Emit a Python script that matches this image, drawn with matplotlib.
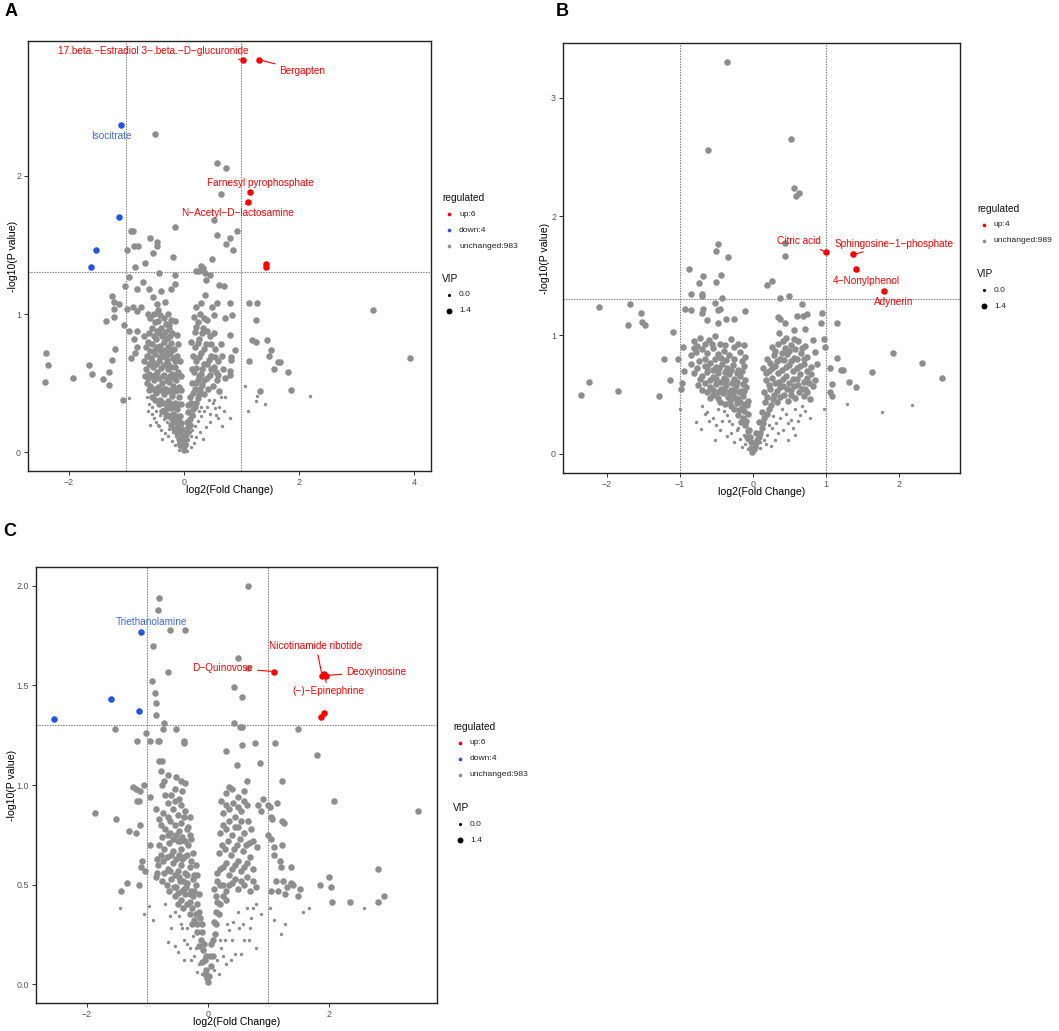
import matplotlib
matplotlib.use("Agg")
import matplotlib.pyplot as plt

plt.rcParams['font.family'] = ['Liberation Sans', 'DejaVu Sans']

W, H = 1059, 1031
RED = '#FF0000'
BLUE = '#2156E0'
BLUE_TXT = '#3B6BE8'
GREY = '#8E8E8E'
M = '\u2212'

# ---------------- panel A ----------------
a_up_x = [1.03, 1.30, 1.15, 1.11, 1.43, 1.43]
a_up_y = [2.84, 2.84, 1.88, 1.81, 1.36, 1.34]
a_down_x = [-1.09, -1.12, -1.53, -1.62]
a_down_y = [2.37, 1.70, 1.46, 1.34]
a_grey_big = [
    (-0.50, 2.30), (0.58, 2.09), (0.73, 2.06), (0.65, 1.87), (0.53, 1.68), (-0.16, 1.63),
    (-0.91, 1.60), (-0.88, 1.60), (0.92, 1.60), (0.57, 1.57), (0.81, 1.55), (-0.58, 1.55),
    (-0.46, 1.52), (-0.47, 1.49), (0.73, 1.51), (-0.86, 1.49), (-0.80, 1.49), (-0.98, 1.46),
    (0.85, 1.46), (-0.53, 1.44), (-0.18, 1.41), (0.49, 1.40), (-0.67, 1.37), (-0.85, 1.34),
    (0.30, 1.35), (0.33, 1.33), (0.22, 1.31), (0.26, 1.31), (-0.43, 1.30), (-0.16, 1.28),
    (0.37, 1.30), (0.38, 1.25), (0.46, 1.28), (-0.95, 1.27), (-0.71, 1.23), (-0.16, 1.22),
    (0.61, 1.21), (0.70, 1.20), (-1.03, 1.20), (-0.81, 1.18), (-0.61, 1.18), (-0.39, 1.17),
    (-0.23, 1.18), (0.37, 1.14), (-1.25, 1.13), (-1.22, 1.09), (-1.22, 1.04), (-0.53, 1.12),
    (-0.46, 1.07), (-0.33, 1.09), (-1.12, 1.07), (-0.99, 1.04), (-0.89, 1.05), (-0.81, 1.02),
    (-0.74, 1.05), (-0.63, 1.00), (-0.51, 1.00), (0.30, 1.08), (0.22, 1.05), (0.57, 1.08),
    (0.49, 1.05), (0.81, 1.08), (1.13, 1.08), (1.27, 1.08), (0.83, 0.99), (0.71, 0.97),
    (0.53, 0.99), (-1.36, 0.95), (-1.22, 0.98), (-1.04, 0.92), (-0.96, 0.88), (-0.82, 0.88),
    (1.26, 0.96), (0.81, 0.85), (-0.87, 0.82), (-0.82, 0.76), (1.18, 0.81), (1.26, 0.80),
    (1.44, 0.81), (-1.19, 0.75), (-0.85, 0.72), (-0.91, 0.68), (0.89, 0.74), (1.51, 0.74),
    (1.49, 0.70), (-2.39, 0.72), (-2.36, 0.63), (-2.41, 0.51), (-1.25, 0.67), (-1.65, 0.63),
    (-1.60, 0.57), (-1.93, 0.54), (-1.41, 0.53), (-1.30, 0.58), (-1.30, 0.49), (1.13, 0.66),
    (1.63, 0.65), (1.67, 0.65), (1.57, 0.60), (1.82, 0.58), (1.87, 0.45), (1.33, 0.44),
    (0.82, 0.69), (0.82, 0.67), (0.81, 0.59), (0.81, 0.56), (3.29, 1.03), (3.94, 0.68),
    (-1.05, 0.38),
]
a_core = [
    # left arm
    (-0.42, 0.99), (-0.35, 0.97), (-0.28, 1.00), (-0.22, 0.96), (-0.50, 0.94), (-0.25, 0.92),
    (-0.55, 0.90), (-0.47, 0.88), (-0.40, 0.90), (-0.33, 0.87), (-0.26, 0.89), (-0.20, 0.86),
    (-0.60, 0.86), (-0.38, 0.84), (-0.62, 0.80), (-0.55, 0.78), (-0.48, 0.82), (-0.41, 0.77),
    (-0.34, 0.80), (-0.28, 0.76), (-0.22, 0.79), (-0.17, 0.75), (-0.66, 0.76), (-0.50, 0.74),
    (-0.64, 0.70), (-0.57, 0.68), (-0.50, 0.71), (-0.44, 0.66), (-0.37, 0.70), (-0.30, 0.67),
    (-0.24, 0.72), (-0.18, 0.68), (-0.12, 0.70), (-0.40, 0.73), (-0.66, 0.60), (-0.60, 0.57),
    (-0.53, 0.62), (-0.47, 0.58), (-0.40, 0.61), (-0.34, 0.56), (-0.27, 0.60), (-0.21, 0.57),
    (-0.15, 0.62), (-0.10, 0.58), (-0.56, 0.55), (-0.64, 0.50), (-0.58, 0.48), (-0.51, 0.52),
    (-0.45, 0.47), (-0.38, 0.50), (-0.31, 0.46), (-0.25, 0.51), (-0.19, 0.48), (-0.13, 0.52),
    (-0.08, 0.47), (-0.55, 0.40), (-0.48, 0.43), (-0.41, 0.38), (-0.34, 0.42), (-0.27, 0.37),
    (-0.21, 0.41), (-0.15, 0.36), (-0.09, 0.40), (-0.05, 0.35), (-0.38, 0.30), (-0.31, 0.27),
    (-0.24, 0.32), (-0.18, 0.28), (-0.12, 0.31), (-0.06, 0.26), (-0.22, 0.20), (-0.16, 0.22),
    (-0.10, 0.18), (-0.05, 0.21), (-0.08, 0.10), (-0.04, 0.07), (-0.02, 0.12),
    (-0.45, 0.95), (-0.31, 0.93), (-0.52, 0.84), (-0.44, 0.86), (-0.30, 0.83), (-0.24, 0.84),
    (-0.58, 0.73), (-0.46, 0.76), (-0.33, 0.74), (-0.27, 0.71), (-0.20, 0.74), (-0.61, 0.64),
    (-0.55, 0.66), (-0.48, 0.64), (-0.42, 0.69), (-0.35, 0.63), (-0.28, 0.64), (-0.22, 0.62),
    (-0.16, 0.66), (-0.62, 0.54), (-0.50, 0.56), (-0.43, 0.54), (-0.37, 0.55), (-0.30, 0.52),
    (-0.24, 0.55), (-0.17, 0.54), (-0.12, 0.57), (-0.60, 0.45), (-0.53, 0.46), (-0.42, 0.45),
    (-0.35, 0.46), (-0.28, 0.44), (-0.22, 0.45), (-0.16, 0.44), (-0.11, 0.45), (-0.50, 0.38),
    (-0.44, 0.35), (-0.37, 0.36), (-0.30, 0.33), (-0.24, 0.36), (-0.18, 0.33), (-0.11, 0.35),
    (-0.33, 0.30), (-0.27, 0.26), (-0.20, 0.24), (-0.14, 0.26), (-0.09, 0.23), (-0.17, 0.17),
    (-0.12, 0.14), (-0.06, 0.15), (-0.03, 0.17), (-0.06, 0.05), (-0.01, 0.08), (0.00, 0.02),
    (-0.69, 0.66), (-0.68, 0.55), (-0.70, 0.84), (-0.58, 0.97), (-0.45, 1.03), (-0.15, 0.95),
    (-0.12, 0.85), (-0.10, 0.78), (-0.07, 0.66), (-0.05, 0.55), (-0.04, 0.45),
    # right arm
    (0.02, 0.05), (0.04, 0.10), (0.06, 0.15), (0.10, 0.20), (0.05, 0.22), (0.14, 0.27),
    (0.08, 0.29), (0.19, 0.33), (0.12, 0.36), (0.24, 0.39), (0.16, 0.43), (0.29, 0.46),
    (0.21, 0.50), (0.36, 0.52), (0.26, 0.55), (0.45, 0.56), (0.18, 0.58), (0.32, 0.60),
    (0.52, 0.62), (0.40, 0.64), (0.22, 0.66), (0.60, 0.66), (0.48, 0.70), (0.30, 0.72),
    (0.20, 0.76), (0.55, 0.75), (0.38, 0.78), (0.27, 0.82), (0.45, 0.84), (0.19, 0.87),
    (0.33, 0.90), (0.24, 0.94), (0.40, 0.96), (0.18, 0.98), (0.28, 1.00), (0.64, 0.78),
    (0.50, 0.48), (0.58, 0.52), (0.35, 0.42), (0.42, 0.46), (0.68, 0.60), (0.72, 0.54),
    (0.62, 0.44),
    (0.03, 0.13), (0.08, 0.18), (0.11, 0.24), (0.07, 0.34), (0.16, 0.31), (0.21, 0.36),
    (0.10, 0.40), (0.27, 0.42), (0.19, 0.46), (0.14, 0.50), (0.32, 0.49), (0.24, 0.52),
    (0.40, 0.54), (0.30, 0.57), (0.22, 0.61), (0.36, 0.64), (0.47, 0.60), (0.56, 0.58),
    (0.27, 0.69), (0.43, 0.67), (0.54, 0.69), (0.35, 0.75), (0.47, 0.78), (0.24, 0.79),
    (0.31, 0.86), (0.40, 0.88), (0.22, 0.91), (0.36, 0.97), (0.52, 0.86), (0.66, 0.70),
    (0.60, 0.56), (0.16, 0.70), (0.14, 0.60), (0.13, 0.80),
]
a_grey_small = [
    (2.20, 0.41), (1.06, 0.48), (1.27, 0.41), (1.26, 0.37), (1.41, 0.35), (1.12, 0.30),
    (0.80, 0.25), (0.67, 0.19), (-0.95, 0.39),
    (-0.02, 0.02), (0.01, 0.03), (-0.06, 0.04), (0.05, 0.06), (-0.10, 0.07), (0.08, 0.09),
    (-0.14, 0.12), (0.12, 0.12), (-0.18, 0.15), (0.15, 0.16), (-0.25, 0.17), (0.20, 0.19),
    (-0.30, 0.22), (0.24, 0.23), (-0.35, 0.24), (0.30, 0.26), (-0.42, 0.27), (0.35, 0.30),
    (-0.48, 0.30), (0.40, 0.33), (-0.52, 0.25), (0.45, 0.28), (-0.55, 0.33), (0.50, 0.36),
    (-0.32, 0.14), (0.28, 0.15), (0.60, 0.25), (-0.45, 0.20), (0.55, 0.32), (0.65, 0.40),
    (-0.60, 0.35), (0.70, 0.30), (-0.38, 0.10), (0.34, 0.10), (-0.55, 0.28), (-0.44, 0.19),
    (0.53, 0.38),
    (-0.20, 0.08), (-0.15, 0.05), (0.18, 0.07), (0.13, 0.04), (-0.28, 0.12), (0.22, 0.11),
    (-0.40, 0.16), (0.38, 0.18), (-0.48, 0.22), (0.46, 0.22), (-0.58, 0.20), (0.56, 0.27),
    (-0.62, 0.30), (0.62, 0.33), (-0.36, 0.31), (0.30, 0.33), (-0.26, 0.28), (0.18, 0.26),
    (-0.08, 0.02), (0.06, 0.01), (-0.12, 0.24), (0.10, 0.15), (0.26, 0.30), (-0.42, 0.34),
    (0.44, 0.38), (0.72, 0.40), (-0.64, 0.40),
]
a_labels = ["17.beta." + M + "Estradiol 3" + M + ".beta." + M + "D" + M + "glucuronide",
            "Bergapten", "Farnesyl pyrophosphate", "N" + M + "Acetyl" + M + "D" + M + "lactosamine",
            "Isocitrate"]

# ---------------- panel B ----------------
b_up_x = [1.01, 1.38, 1.42, 1.80]
b_up_y = [1.70, 1.68, 1.56, 1.37]
b_grey_big = [
    (-0.35, 3.30), (0.53, 2.65), (-0.61, 2.56), (0.57, 2.24), (0.59, 2.17), (0.63, 2.20),
    (-0.47, 1.77), (-0.50, 1.71), (-0.34, 1.66), (0.44, 1.78), (0.44, 1.67), (-0.88, 1.56),
    (-0.68, 1.50), (-0.44, 1.51), (-0.73, 1.44), (-0.51, 1.45), (0.27, 1.46), (0.20, 1.42),
    (-0.85, 1.35), (-0.69, 1.35), (-0.69, 1.33), (-0.42, 1.31), (0.38, 1.31), (0.49, 1.33),
    (-0.52, 1.27), (0.67, 1.26), (-2.10, 1.24), (-1.68, 1.26), (-1.53, 1.19), (-1.52, 1.11),
    (-1.48, 1.09), (-1.71, 1.09), (-1.09, 1.03), (-0.93, 1.22), (-0.84, 1.21), (-0.68, 1.22),
    (-0.69, 1.19), (-0.48, 1.21), (-0.45, 1.22), (-0.11, 1.20), (0.95, 1.19), (0.74, 1.18),
    (0.69, 1.16), (0.60, 1.16), (0.35, 1.15), (0.37, 1.14), (0.93, 1.10), (1.16, 1.10),
    (0.44, 1.10), (-0.62, 1.13), (-0.47, 1.10), (-0.37, 1.14), (-0.25, 1.14), (0.97, 0.97),
    (0.99, 0.90), (0.71, 1.05), (0.82, 0.96), (1.92, 0.85), (1.16, 0.81), (2.32, 0.77),
    (-1.21, 0.80), (-1.02, 0.80), (-0.96, 0.90), (-1.14, 0.62), (1.06, 0.72), (1.21, 0.71),
    (1.24, 0.71), (1.63, 0.69), (2.60, 0.64), (-2.25, 0.61), (-2.35, 0.50), (-1.84, 0.53),
    (-1.29, 0.49), (1.32, 0.61), (1.42, 0.56), (1.09, 0.59), (1.06, 0.52), (1.08, 0.49),
    (-0.94, 0.70), (-0.97, 0.60), (-0.98, 0.55), (-0.81, 0.89), (-0.84, 0.83), (0.85, 0.86),
    (0.88, 0.76),
]
b_core = [
    # left arm
    (-0.80, 0.95), (-0.72, 0.98), (-0.60, 0.96), (-0.52, 0.99), (-0.45, 0.93), (-0.30, 0.97),
    (-0.25, 0.90), (-0.12, 0.92), (-0.78, 0.86), (-0.70, 0.88), (-0.62, 0.85), (-0.55, 0.89),
    (-0.48, 0.84), (-0.40, 0.87), (-0.33, 0.83), (-0.18, 0.86), (-0.10, 0.82), (-0.85, 0.76),
    (-0.74, 0.78), (-0.66, 0.74), (-0.58, 0.77), (-0.50, 0.73), (-0.42, 0.76), (-0.35, 0.72),
    (-0.27, 0.75), (-0.20, 0.71), (-0.12, 0.74), (-0.80, 0.68), (-0.70, 0.66), (-0.62, 0.69),
    (-0.55, 0.65), (-0.47, 0.68), (-0.40, 0.64), (-0.32, 0.67), (-0.25, 0.63), (-0.18, 0.66),
    (-0.10, 0.62), (-0.75, 0.58), (-0.66, 0.60), (-0.58, 0.56), (-0.51, 0.59), (-0.44, 0.55),
    (-0.37, 0.58), (-0.30, 0.54), (-0.23, 0.57), (-0.16, 0.53), (-0.09, 0.56), (-0.62, 0.52),
    (-0.55, 0.50), (-0.48, 0.47), (-0.41, 0.51), (-0.34, 0.48), (-0.27, 0.50), (-0.20, 0.46),
    (-0.14, 0.49), (-0.07, 0.45), (-0.38, 0.42), (-0.30, 0.40), (-0.22, 0.43), (-0.15, 0.39),
    (-0.08, 0.41), (-0.20, 0.33), (-0.13, 0.30), (-0.07, 0.34), (-0.11, 0.24), (-0.05, 0.20),
    (-0.08, 0.14), (-0.03, 0.10), (-0.02, 0.05),
    (-0.76, 0.91), (-0.66, 0.93), (-0.56, 0.93), (-0.38, 0.92), (-0.20, 0.93), (-0.66, 0.80),
    (-0.52, 0.80), (-0.44, 0.81), (-0.37, 0.79), (-0.25, 0.80), (-0.15, 0.78), (-0.77, 0.72),
    (-0.62, 0.73), (-0.54, 0.71), (-0.46, 0.72), (-0.38, 0.69), (-0.30, 0.71), (-0.22, 0.68),
    (-0.15, 0.70), (-0.72, 0.63), (-0.58, 0.62), (-0.50, 0.63), (-0.43, 0.61), (-0.36, 0.62),
    (-0.28, 0.60), (-0.21, 0.61), (-0.13, 0.59), (-0.70, 0.54), (-0.54, 0.54), (-0.47, 0.52),
    (-0.40, 0.55), (-0.33, 0.52), (-0.26, 0.54), (-0.19, 0.52), (-0.12, 0.53), (-0.58, 0.47),
    (-0.45, 0.44), (-0.31, 0.45), (-0.24, 0.47), (-0.17, 0.44), (-0.11, 0.42), (-0.26, 0.38),
    (-0.19, 0.37), (-0.12, 0.36), (-0.16, 0.27), (-0.09, 0.28), (-0.07, 0.19), (-0.04, 0.14),
    (-0.01, 0.02),
    # right arm
    (0.02, 0.04), (0.05, 0.09), (0.08, 0.14), (0.04, 0.18), (0.12, 0.22), (0.08, 0.27),
    (0.16, 0.30), (0.12, 0.35), (0.22, 0.38), (0.17, 0.44), (0.28, 0.46), (0.38, 0.48),
    (0.48, 0.45), (0.58, 0.47), (0.70, 0.49), (0.78, 0.46), (0.15, 0.52), (0.24, 0.55),
    (0.33, 0.53), (0.42, 0.57), (0.52, 0.54), (0.62, 0.58), (0.72, 0.55), (0.82, 0.57),
    (0.18, 0.62), (0.27, 0.64), (0.36, 0.61), (0.46, 0.66), (0.55, 0.63), (0.65, 0.67),
    (0.75, 0.64), (0.85, 0.62), (0.14, 0.72), (0.22, 0.70), (0.31, 0.74), (0.40, 0.71),
    (0.50, 0.75), (0.60, 0.72), (0.70, 0.76), (0.80, 0.73), (0.20, 0.80), (0.29, 0.83),
    (0.38, 0.80), (0.47, 0.84), (0.56, 0.81), (0.66, 0.85), (0.74, 0.82), (0.26, 0.90),
    (0.35, 0.93), (0.44, 0.89), (0.53, 0.92), (0.62, 0.95), (0.72, 0.91), (0.46, 0.98),
    (0.36, 1.02), (0.56, 1.04),
    (0.10, 0.18), (0.14, 0.26), (0.19, 0.34), (0.25, 0.41), (0.33, 0.44), (0.43, 0.50),
    (0.53, 0.50), (0.63, 0.52), (0.75, 0.52), (0.20, 0.48), (0.29, 0.50), (0.38, 0.56),
    (0.47, 0.55), (0.57, 0.57), (0.67, 0.55), (0.77, 0.60), (0.22, 0.58), (0.31, 0.60),
    (0.41, 0.63), (0.50, 0.60), (0.60, 0.63), (0.70, 0.61), (0.80, 0.67), (0.18, 0.68),
    (0.26, 0.72), (0.35, 0.68), (0.45, 0.73), (0.55, 0.70), (0.65, 0.74), (0.75, 0.70),
    (0.24, 0.77), (0.33, 0.78), (0.43, 0.79), (0.52, 0.78), (0.61, 0.80), (0.70, 0.80),
    (0.30, 0.87), (0.40, 0.85), (0.50, 0.87), (0.58, 0.88), (0.68, 0.89), (0.41, 0.95),
    (0.56, 0.97), (0.06, 0.12), (0.03, 0.06),
]
b_grey_small = [
    (1.29, 0.42), (1.77, 0.35), (2.18, 0.41), (0.97, 0.38), (-1.00, 0.38), (-0.78, 0.27),
    (-0.71, 0.21),
    (-0.70, 0.40), (-0.62, 0.35), (-0.55, 0.30), (-0.48, 0.38), (-0.42, 0.28), (-0.35, 0.33),
    (-0.28, 0.25), (-0.30, 0.18), (-0.22, 0.20), (-0.18, 0.13), (-0.12, 0.16), (-0.10, 0.08),
    (-0.06, 0.04), (-0.45, 0.20), (-0.25, 0.10), (0.10, 0.05), (0.15, 0.12), (0.20, 0.16),
    (0.26, 0.22), (0.32, 0.26), (0.38, 0.30), (0.45, 0.34), (0.52, 0.29), (0.58, 0.38),
    (0.65, 0.33), (0.72, 0.36), (0.42, 0.20), (0.30, 0.12), (0.55, 0.22), (0.25, 0.07),
    (0.78, 0.30), (0.48, 0.12),
    (-0.15, 0.06), (0.18, 0.08), (-0.35, 0.15), (0.35, 0.18), (-0.50, 0.24), (0.48, 0.26),
    (-0.60, 0.28), (0.62, 0.28), (-0.40, 0.36), (0.40, 0.38), (-0.20, 0.22), (0.22, 0.24),
    (-0.08, 0.12), (0.10, 0.10), (-0.32, 0.28), (0.28, 0.32), (0.68, 0.40), (-0.66, 0.34),
    (0.58, 0.16), (-0.52, 0.12),
]
b_labels = ["Citric acid", "Sphingosine" + M + "1" + M + "phosphate", "4" + M + "Nonylphenol", "Adynerin"]

# ---------------- panel C ----------------
c_up_x = [1.09, 1.89, 1.95, 1.92, 1.87, 1.92]
c_up_y = [1.57, 1.55, 1.55, 1.56, 1.34, 1.36]
c_down_x = [-1.10, -1.60, -1.14, -2.55]
c_down_y = [1.77, 1.43, 1.37, 1.33]
c_grey_big = [
    (0.66, 2.00), (-0.81, 1.94), (-0.82, 1.88), (-0.62, 1.78), (-0.37, 1.78), (-0.90, 1.70),
    (0.50, 1.64), (-0.66, 1.57), (0.66, 1.59), (-0.93, 1.52), (0.44, 1.49), (-0.88, 1.46),
    (0.56, 1.44), (-0.86, 1.41), (-0.86, 1.35), (-0.73, 1.31), (0.44, 1.31), (0.53, 1.29),
    (0.56, 1.29), (-1.53, 1.28), (-1.02, 1.26), (-0.74, 1.28), (-0.52, 1.28), (1.50, 1.28),
    (-1.17, 1.22), (-0.95, 1.22), (-0.82, 1.22), (-0.81, 1.22), (-0.39, 1.22), (-0.39, 1.21),
    (0.56, 1.20), (0.78, 1.21), (1.11, 1.21), (0.30, 1.17), (1.80, 1.15), (-0.76, 1.12),
    (0.49, 1.10), (0.86, 1.11), (0.65, 1.02), (1.22, 1.02), (-1.06, 1.00), (-1.24, 0.99),
    (-1.18, 0.98), (2.09, 0.92), (3.48, 0.87), (-1.87, 0.86), (-1.52, 0.83), (-1.12, 0.97),
    (-1.17, 0.92), (-1.14, 0.92), (-1.12, 0.80), (-1.31, 0.77), (-1.19, 0.76), (-0.95, 0.94),
    (1.14, 0.91), (1.23, 0.82), (1.26, 0.81), (0.99, 0.90), (1.03, 0.89), (1.04, 0.84),
    (1.06, 0.83), (0.92, 0.93), (0.83, 0.90), (0.88, 0.87), (1.00, 0.75), (1.05, 0.73),
    (1.09, 0.69), (1.09, 0.65), (1.22, 0.70), (1.38, 0.59), (1.20, 0.62), (1.21, 0.59),
    (2.81, 0.58), (2.01, 0.54), (2.04, 0.49), (1.85, 0.50), (2.06, 0.41), (2.35, 0.41),
    (2.81, 0.41), (2.91, 0.44), (1.53, 0.48), (1.50, 0.44), (1.24, 0.52), (1.31, 0.49),
    (1.37, 0.51), (1.41, 0.50), (1.16, 0.47), (1.27, 0.45), (1.13, 0.52), (1.04, 0.47),
    (-1.34, 0.51), (-1.43, 0.47), (-1.14, 0.50), (-1.08, 0.62), (-1.04, 0.57), (-1.10, 0.59),
    (-0.95, 0.70), (-0.84, 0.63), (-0.84, 0.56), (-0.85, 0.54),
]
c_core = [
    # left arm
    (-0.80, 1.12), (-0.78, 1.07), (-0.72, 1.02), (-0.65, 1.05), (-0.55, 0.98), (-0.45, 1.02),
    (-0.38, 1.01), (-0.60, 0.95), (-0.48, 0.93), (-0.42, 0.97), (-0.85, 0.88), (-0.74, 0.86),
    (-0.66, 0.84), (-0.58, 0.88), (-0.50, 0.85), (-0.38, 0.87), (-0.30, 0.84), (-0.78, 0.80),
    (-0.70, 0.78), (-0.62, 0.76), (-0.55, 0.80), (-0.48, 0.77), (-0.42, 0.74), (-0.35, 0.78),
    (-0.28, 0.73), (-0.80, 0.70), (-0.72, 0.68), (-0.64, 0.71), (-0.57, 0.67), (-0.50, 0.72),
    (-0.45, 0.68), (-0.40, 0.64), (-0.33, 0.70), (-0.25, 0.66), (-0.82, 0.60), (-0.74, 0.62),
    (-0.66, 0.58), (-0.58, 0.61), (-0.50, 0.57), (-0.44, 0.60), (-0.38, 0.56), (-0.30, 0.59),
    (-0.22, 0.55), (-0.76, 0.52), (-0.68, 0.50), (-0.60, 0.53), (-0.52, 0.49), (-0.46, 0.52),
    (-0.40, 0.48), (-0.34, 0.51), (-0.27, 0.47), (-0.20, 0.50), (-0.55, 0.44), (-0.45, 0.42),
    (-0.38, 0.45), (-0.30, 0.41), (-0.24, 0.44), (-0.18, 0.40), (-0.30, 0.35), (-0.22, 0.32),
    (-0.15, 0.36), (-0.10, 0.30), (-0.18, 0.26), (-0.12, 0.22), (-0.08, 0.17), (-0.05, 0.12),
    (-0.03, 0.07), (-0.01, 0.03),
    (-0.76, 1.00), (-0.70, 0.95), (-0.52, 1.04), (-0.66, 0.91), (-0.54, 0.92), (-0.44, 0.90),
    (-0.80, 0.83), (-0.62, 0.82), (-0.44, 0.81), (-0.40, 0.84), (-0.32, 0.79), (-0.75, 0.74),
    (-0.66, 0.75), (-0.58, 0.73), (-0.52, 0.75), (-0.46, 0.72), (-0.38, 0.72), (-0.30, 0.75),
    (-0.78, 0.65), (-0.68, 0.64), (-0.60, 0.65), (-0.53, 0.63), (-0.47, 0.65), (-0.43, 0.63),
    (-0.35, 0.65), (-0.28, 0.62), (-0.20, 0.60), (-0.72, 0.56), (-0.62, 0.57), (-0.55, 0.55),
    (-0.48, 0.54), (-0.41, 0.52), (-0.34, 0.55), (-0.25, 0.53), (-0.17, 0.55), (-0.64, 0.47),
    (-0.56, 0.49), (-0.49, 0.46), (-0.43, 0.47), (-0.36, 0.49), (-0.29, 0.45), (-0.22, 0.47),
    (-0.15, 0.45), (-0.50, 0.40), (-0.41, 0.38), (-0.35, 0.40), (-0.26, 0.38), (-0.20, 0.35),
    (-0.13, 0.33), (-0.26, 0.30), (-0.17, 0.30), (-0.14, 0.19), (-0.10, 0.26), (-0.07, 0.20),
    (-0.09, 0.11), (-0.03, 0.14), (-0.05, 0.05), (0.00, 0.01),
    # right arm
    (0.02, 0.04), (0.05, 0.09), (0.08, 0.14), (0.06, 0.20), (0.12, 0.25), (0.10, 0.31),
    (0.18, 0.35), (0.15, 0.41), (0.25, 0.44), (0.10, 0.48), (0.20, 0.50), (0.30, 0.47),
    (0.40, 0.51), (0.50, 0.48), (0.60, 0.50), (0.70, 0.47), (0.80, 0.49), (0.15, 0.56),
    (0.25, 0.59), (0.35, 0.55), (0.45, 0.60), (0.55, 0.57), (0.65, 0.61), (0.75, 0.58),
    (0.18, 0.66), (0.28, 0.68), (0.38, 0.65), (0.48, 0.70), (0.58, 0.67), (0.68, 0.71),
    (0.82, 0.69), (0.20, 0.76), (0.30, 0.78), (0.40, 0.75), (0.50, 0.79), (0.60, 0.76),
    (0.72, 0.78), (0.25, 0.86), (0.35, 0.88), (0.45, 0.84), (0.55, 0.87), (0.65, 0.90),
    (0.30, 0.96), (0.40, 0.98), (0.50, 0.94), (0.60, 0.97), (0.22, 0.92),
    (0.04, 0.14), (0.09, 0.22), (0.14, 0.30), (0.14, 0.36), (0.21, 0.40), (0.30, 0.42),
    (0.13, 0.44), (0.16, 0.52), (0.25, 0.50), (0.35, 0.50), (0.45, 0.53), (0.55, 0.52),
    (0.65, 0.54), (0.75, 0.52), (0.20, 0.58), (0.30, 0.61), (0.40, 0.58), (0.50, 0.62),
    (0.60, 0.59), (0.70, 0.64), (0.23, 0.70), (0.33, 0.72), (0.43, 0.68), (0.53, 0.73),
    (0.63, 0.70), (0.75, 0.72), (0.25, 0.80), (0.35, 0.82), (0.45, 0.79), (0.55, 0.82),
    (0.66, 0.82), (0.30, 0.90), (0.42, 0.91), (0.50, 0.89), (0.60, 0.92), (0.35, 0.99),
]
c_grey_small = [
    (-1.45, 0.38), (2.59, 0.38), (1.58, 0.36), (1.68, 0.38), (-1.06, 0.35), (-0.90, 0.32),
    (1.21, 0.25), (1.27, 0.30), (1.03, 0.38), (1.10, 0.32), (-0.65, 0.21), (-0.54, 0.19),
    (0.79, 0.18), (0.68, 0.22), (-0.97, 0.39),
    (-0.55, 0.36), (-0.45, 0.30), (-0.40, 0.22), (-0.35, 0.28), (-0.30, 0.18), (-0.25, 0.24),
    (-0.22, 0.14), (-0.15, 0.10), (-0.10, 0.05), (-0.60, 0.28), (-0.50, 0.16), (0.10, 0.07),
    (0.15, 0.12), (0.22, 0.18), (0.28, 0.22), (0.35, 0.27), (0.42, 0.31), (0.50, 0.36),
    (0.58, 0.30), (0.65, 0.38), (0.72, 0.33), (0.80, 0.40), (0.45, 0.15), (0.30, 0.10),
    (0.60, 0.22), (0.88, 0.35),
    (-0.18, 0.06), (0.18, 0.05), (-0.28, 0.12), (0.25, 0.14), (-0.42, 0.28), (0.40, 0.22),
    (-0.48, 0.34), (0.52, 0.28), (-0.35, 0.20), (0.32, 0.30), (-0.20, 0.18), (0.20, 0.22),
    (-0.62, 0.34), (0.70, 0.28), (0.55, 0.15), (-0.40, 0.12), (0.38, 0.12), (0.75, 0.38),
    (-0.70, 0.40),
]
c_labels = ["Triethanolamine", "D" + M + "Quinovose", "Nicotinamide ribotide", "Deoxyinosine",
            "(" + M + ")" + M + "Epinephrine"]

BIG, SMALL = 22, 6


def panel(rect, xlim, ylim, xticks, yticks, ylab_x):
    ax = fig.add_axes(rect)
    ax.set_xlim(*xlim)
    ax.set_ylim(*ylim)
    ax.set_xticks(xticks)
    ax.set_yticks(yticks)
    for s in ax.spines.values():
        s.set_linewidth(1.0)
        s.set_color('#222222')
    ax.tick_params(length=3, width=0.7, color='#333333', labelcolor='#555555',
                   labelsize=6.4, pad=2)
    ax.axvline(-1, color='#777777', lw=0.8, ls=(0, (1.2, 1.2)), zorder=1)
    ax.axvline(1, color='#777777', lw=0.8, ls=(0, (1.2, 1.2)), zorder=1)
    ax.axhline(1.30103, color='#777777', lw=0.8, ls=(0, (1.2, 1.2)), zorder=1)
    ax.set_xlabel('log2(Fold Change)', fontsize=7.6)
    ax.set_ylabel('-log10(P value)', fontsize=7.6)
    ax.xaxis.set_label_coords(0.5, -0.033)
    ax.yaxis.set_label_coords(ylab_x, 0.5)
    return ax


def dots(ax, big, small):
    ax.scatter([p[0] for p in small], [p[1] for p in small], s=SMALL, c=GREY, lw=0, zorder=2)
    ax.scatter([p[0] for p in big], [p[1] for p in big], s=BIG, c=GREY, lw=0, zorder=2)


def note(ax, text, xy, xytext, color):
    ax.annotate(text, xy=xy, xytext=xytext, color=color, fontsize=7.2,
                ha='center', va='center', zorder=5,
                arrowprops=dict(arrowstyle='-', color=color, lw=0.8,
                                shrinkA=1, shrinkB=2))


fig = plt.figure(figsize=(W / 100, H / 100), dpi=100)

# A
axA = panel([28 / W, 1 - 471 / H, 403 / W, 430 / H], (-2.71, 4.30), (-0.135, 2.975),
            [-2, 0, 2, 4], [0, 1, 2], -0.025)
dots(axA, a_grey_big + a_core, a_grey_small)
axA.scatter(a_up_x, a_up_y, s=BIG, c=RED, lw=0, zorder=3)
axA.scatter(a_down_x, a_down_y, s=BIG, c=BLUE, lw=0, zorder=3)
note(axA, a_labels[0], (a_up_x[0], a_up_y[0]), (-0.53, 2.90), RED)
note(axA, a_labels[1], (a_up_x[1], a_up_y[1]), (2.06, 2.76), RED)
note(axA, a_labels[2], (a_up_x[2], a_up_y[2]), (1.33, 1.95), RED)
note(axA, a_labels[3], (a_up_x[3], a_up_y[3]), (0.93, 1.73), RED)
note(axA, a_labels[4], (a_down_x[0], a_down_y[0]), (-1.26, 2.29), BLUE_TXT)

# B
axB = panel([563 / W, 1 - 473 / H, 397 / W, 430 / H], (-2.60, 2.84), (-0.16, 3.46),
            [-2, -1, 0, 1, 2], [0, 1, 2, 3], -0.033)
dots(axB, b_grey_big + b_core, b_grey_small)
axB.scatter(b_up_x, b_up_y, s=BIG, c=RED, lw=0, zorder=3)
note(axB, b_labels[0], (b_up_x[0], b_up_y[0]), (0.63, 1.79), RED)
note(axB, b_labels[1], (b_up_x[1], b_up_y[1]), (1.94, 1.77), RED)
note(axB, b_labels[2], (b_up_x[2], b_up_y[2]), (1.55, 1.46), RED)
note(axB, b_labels[3], (b_up_x[3], b_up_y[3]), (1.93, 1.28), RED)

# C
axC = panel([36 / W, 1 - 1003 / H, 401 / W, 436 / H], (-2.84, 3.79), (-0.095, 2.095),
            [-2, 0, 2], [0.0, 0.5, 1.0, 1.5, 2.0], -0.047)
axC.set_yticklabels(['0.0', '0.5', '1.0', '1.5', '2.0'])
dots(axC, c_grey_big + c_core, c_grey_small)
axC.scatter(c_up_x, c_up_y, s=BIG, c=RED, lw=0, zorder=3)
axC.scatter(c_down_x, c_down_y, s=BIG, c=BLUE, lw=0, zorder=3)
note(axC, c_labels[0], (c_down_x[0], c_down_y[0]), (-0.93, 1.82), BLUE_TXT)
note(axC, c_labels[1], (c_up_x[0], c_up_y[0]), (0.25, 1.59), RED)
note(axC, c_labels[2], (c_up_x[1], c_up_y[1]), (1.79, 1.70), RED)
note(axC, c_labels[3], (c_up_x[2], c_up_y[2]), (2.78, 1.57), RED)
note(axC, c_labels[4], (c_up_x[3], c_up_y[3]), (2.00, 1.47), RED)

# overlay in pixel coordinates for panel letters and legends
ov = fig.add_axes([0, 0, 1, 1], facecolor='none')
ov.set_xlim(0, W)
ov.set_ylim(H, 0)
ov.axis('off')

for letter, (lx, ly) in zip('ABC', [(5, 12), (556, 12), (3, 531)]):
    ov.text(lx, ly, letter, fontsize=13, fontweight='bold', va='center', ha='left')


def legend(x0, y0, entries):
    ov.text(x0, y0, 'regulated', fontsize=7.3, va='center', ha='left', color='#111111')
    y = y0
    for lab, col in entries:
        y += 16
        ov.scatter([x0 + 7], [y], s=7, c=col, lw=0)
        ov.text(x0 + 17, y, lab, fontsize=6.1, va='center', ha='left', color='#222222')
    y += 33
    ov.text(x0, y, 'VIP', fontsize=7.3, va='center', ha='left', color='#111111')
    ov.scatter([x0 + 7], [y + 16], s=5, c='black', lw=0)
    ov.text(x0 + 17, y + 16, '0.0', fontsize=6.1, va='center', ha='left', color='#222222')
    ov.scatter([x0 + 7], [y + 32], s=18, c='black', lw=0)
    ov.text(x0 + 17, y + 32, '1.4', fontsize=6.1, va='center', ha='left', color='#222222')


legend(442, 198, [('up:6', RED), ('down:4', BLUE), ('unchanged:983', GREY)])
legend(977, 209, [('up:4', RED), ('unchanged:989', GREY)])
legend(453, 727, [('up:6', RED), ('down:4', BLUE), ('unchanged:983', GREY)])

fig.savefig('out.png', dpi=100)
